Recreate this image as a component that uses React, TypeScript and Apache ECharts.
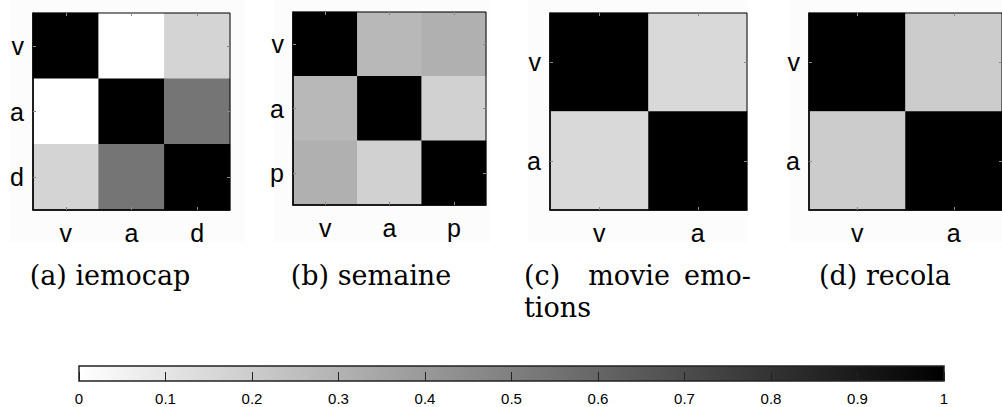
import React, { useEffect, useRef } from "react";
import * as echarts from "echarts";

// ---- data ----
const iemocapLabels = ["v", "a", "d"];
const iemocapMatrix = [
  [1, 0, 0.17],
  [0, 1, 0.54],
  [0.17, 0.54, 1],
];
const semaineLabels = ["v", "a", "p"];
const semaineMatrix = [
  [1, 0.28, 0.31],
  [0.28, 1, 0.18],
  [0.31, 0.18, 1],
];
const movieLabels = ["v", "a"];
const movieMatrix = [
  [1, 0.15],
  [0.15, 1],
];
const recolaLabels = ["v", "a"];
const recolaMatrix = [
  [1, 0.2],
  [0.2, 1],
];
const colorbarMin = 0;
const colorbarMax = 1;
const colorbarStep = 0.1;

// ---- layout ----
const panels = [
  { labels: iemocapLabels, matrix: iemocapMatrix, left: 33, top: 13, size: 197 },
  { labels: semaineLabels, matrix: semaineMatrix, left: 293, top: 12, size: 193 },
  { labels: movieLabels, matrix: movieMatrix, left: 550, top: 13, size: 197 },
  { labels: recolaLabels, matrix: recolaMatrix, left: 809, top: 13, size: 197 },
];
const panelBg = [
  [10, 245],
  [273, 490],
  [528, 748],
  [790, 1002],
];

const SANS = "Liberation Sans, Arial, sans-serif";
const SERIF = "DejaVu Serif, serif";

function toCells(m: number[][]) {
  const out: number[][] = [];
  m.forEach((row, r) => row.forEach((v, c) => out.push([c, r, v])));
  return out;
}

export default function App() {
  const ref = useRef<HTMLDivElement>(null);
  useEffect(() => {
    document.body.style.margin = "0";
    const chart = echarts.init(ref.current!, null, { renderer: "svg" });
    const grid: any[] = [];
    const xAxis: any[] = [];
    const yAxis: any[] = [];
    const series: any[] = [];
    panels.forEach((p, i) => {
      grid.push({
        left: p.left,
        top: p.top,
        width: p.size,
        height: p.size,
        show: true,
        borderColor: "#000",
        borderWidth: 1,
        backgroundColor: "transparent",
        z: 5,
      });
      const tick = { show: true, inside: true, length: 3, alignWithLabel: true, lineStyle: { color: "#888", width: 1 } };
      xAxis.push({
        type: "category",
        gridIndex: i,
        data: p.labels,
        position: "bottom",
        axisLine: { show: true, lineStyle: { color: "#000", width: 1.5 } },
        axisTick: tick,
        axisLabel: { margin: 10, fontSize: 25, color: "#000", fontFamily: SANS },
        splitLine: { show: false },
        z: 6,
      });
      xAxis.push({
        type: "category",
        gridIndex: i,
        data: p.labels,
        position: "top",
        axisLine: { show: false },
        axisTick: tick,
        axisLabel: { show: false },
        splitLine: { show: false },
        z: 6,
      });
      yAxis.push({
        type: "category",
        gridIndex: i,
        data: p.labels,
        inverse: true,
        position: "left",
        axisLine: { show: true, lineStyle: { color: "#000", width: 1.5 } },
        axisTick: tick,
        axisLabel: { margin: 9, fontSize: 25, color: "#000", fontFamily: SANS },
        splitLine: { show: false },
        z: 6,
      });
      yAxis.push({
        type: "category",
        gridIndex: i,
        data: p.labels,
        inverse: true,
        position: "right",
        axisLine: { show: false },
        axisTick: tick,
        axisLabel: { show: false },
        splitLine: { show: false },
        z: 6,
      });
      series.push({
        type: "heatmap",
        xAxisIndex: i * 2,
        yAxisIndex: i * 2,
        data: toCells(p.matrix),
        emphasis: { disabled: true },
        itemStyle: { borderWidth: 0 },
        z: 2,
      });
    });
    // colorbar grid
    const cbIndex = panels.length;
    grid.push({
      left: 79,
      top: 366,
      width: 865,
      height: 15,
      show: true,
      borderColor: "#222",
      borderWidth: 1.5,
      backgroundColor: new echarts.graphic.LinearGradient(0, 0, 1, 0, [
        { offset: 0, color: "#ffffff" },
        { offset: 1, color: "#000000" },
      ]),
    });
    xAxis.push({
      type: "value",
      gridIndex: cbIndex,
      min: colorbarMin,
      max: colorbarMax,
      interval: colorbarStep,
      axisLine: { show: false },
      axisTick: { show: true, inside: true, length: 9, lineStyle: { color: "#222", width: 1 } },
      axisLabel: { margin: 10, fontSize: 15, color: "#000", fontFamily: SANS },
      splitLine: { show: false },
    });
    yAxis.push({ type: "value", gridIndex: cbIndex, show: false, min: 0, max: 1 });

    const graphic: any[] = panelBg.map(([x0, x1]) => ({
      type: "rect",
      z: -10,
      shape: { x: x0, y: 0, width: x1 - x0, height: 242 },
      style: { fill: "#fcfcfc" },
      silent: true,
    }));
    const cap = (text: string, x: number, y: number, align: string) => ({
      type: "text",
      x,
      y,
      style: { text, font: `27px ${SERIF}`, fill: "#000", textAlign: align, textVerticalAlign: "middle" },
    });
    graphic.push(cap("(a) iemocap", 110, 275, "center"));
    graphic.push(cap("(b) semaine", 371, 275, "center"));
    graphic.push(cap("(c)", 524, 275, "left"));
    graphic.push(cap("movie", 629, 275, "center"));
    graphic.push(cap("emo-", 751, 275, "right"));
    graphic.push(cap("tions", 524, 307, "left"));
    graphic.push(cap("(d) recola", 885, 275, "center"));

    chart.setOption({
      animation: false,
      backgroundColor: "#ffffff",
      grid,
      xAxis,
      yAxis,
      visualMap: {
        show: false,
        type: "continuous",
        min: 0,
        max: 1,
        seriesIndex: [0, 1, 2, 3],
        inRange: { color: ["#ffffff", "#000000"] },
      },
      series,
      graphic,
    });
    return () => chart.dispose();
  }, []);
  return <div ref={ref} style={{ width: 1002, height: 407 }} />;
}
